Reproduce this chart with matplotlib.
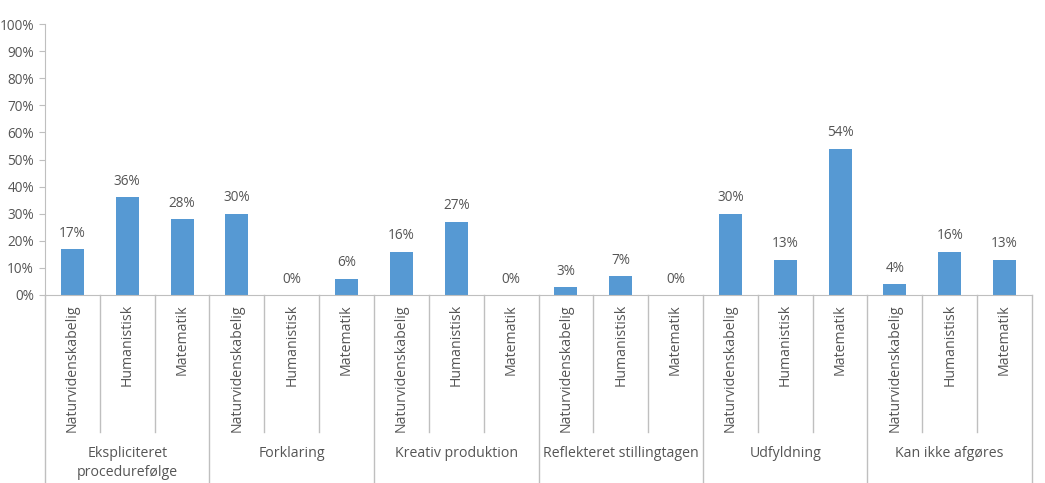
import matplotlib
matplotlib.use("Agg")
import matplotlib.pyplot as plt
from matplotlib.transforms import blended_transform_factory

groups = ["Ekspliciteret\nprocedurefølge", "Forklaring", "Kreativ produktion",
          "Reflekteret stillingtagen", "Udfyldning", "Kan ikke afgøres"]
subjects = ["Naturvidenskabelig", "Humanistisk", "Matematik"]
values = [17, 36, 28,
          30, 0, 6,
          16, 27, 0,
          3, 7, 0,
          30, 13, 54,
          4, 16, 13]
yticks = list(range(0, 101, 10))

plt.rcParams['font.family'] = ['Open Sans', 'DejaVu Sans']
txt = '#555555'
linec = '#bfbfbf'

W, H = 1045, 483
fig = plt.figure(figsize=(W / 100, H / 100), dpi=100)
L, R, B, T = 45, 1032, 295, 24
ax = fig.add_axes([L / W, 1 - B / H, (R - L) / W, (B - T) / H])

n = len(values)
x = list(range(n))
ax.bar(x, values, width=0.42, color='#5699d3')
ax.set_xlim(-0.5, n - 0.5)
ax.set_ylim(0, 100)
ax.set_yticks(yticks)
ax.set_yticklabels([f"{v}%" for v in yticks], fontsize=9.8, color=txt)
ax.tick_params(axis='y', length=4, color=linec, pad=4)
ax.set_xticks([])
for s in ['top', 'right']:
    ax.spines[s].set_visible(False)
ax.spines['left'].set_color(linec)
ax.spines['bottom'].set_color(linec)

for xi, v in zip(x, values):
    ax.annotate(f"{v}%", (xi, v), xytext=(0, 6), textcoords='offset points',
                ha='center', va='bottom', fontsize=9.8, color=txt)

trans = blended_transform_factory(ax.transData, ax.transAxes)
ph = (B - T)

def ypix(p):
    return -(p - B) / ph

for i in range(n + 1):
    xb = i - 0.5
    y_end = ypix(483) if i % 3 == 0 else ypix(432)
    ax.plot([xb, xb], [0, y_end], transform=trans, color=linec, lw=1, clip_on=False)

for i in range(n):
    ax.text(i, ypix(304), subjects[i % 3], transform=trans, rotation=90,
            ha='center', va='top', fontsize=10.2, color=txt)

for g, name in enumerate(groups):
    ax.text(3 * g + 1, ypix(446), name, transform=trans, ha='center', va='top',
            fontsize=10.2, color=txt, linespacing=1.35)

fig.savefig("out.png", dpi=100)
